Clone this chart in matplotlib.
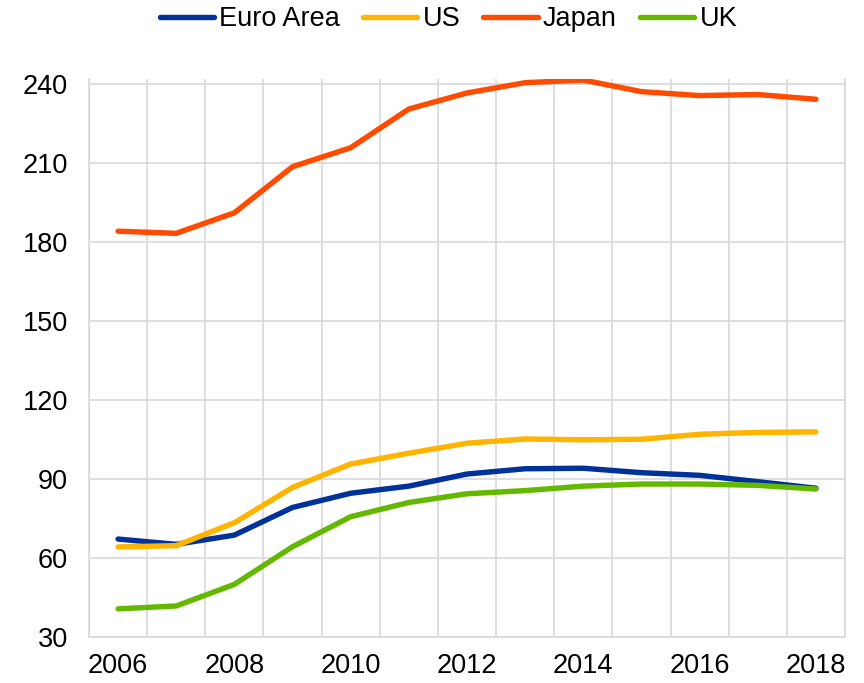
import matplotlib
matplotlib.use("Agg")
import matplotlib.pyplot as plt
import numpy as np

plt.rcParams['font.family'] = ['Liberation Sans', 'DejaVu Sans']

years = list(range(2006, 2019))
tick_labels = [str(y) if y % 2 == 0 else "" for y in years]
euro_area = [67.3, 65.3, 68.8, 79.3, 84.7, 87.4, 92.0, 94.0, 94.2, 92.5, 91.5, 89.1, 86.6]
us = [64.3, 64.8, 73.5, 86.9, 95.8, 99.9, 103.7, 105.3, 105.0, 105.2, 107.1, 107.8, 108.0]
japan = [184.2, 183.4, 191.2, 208.7, 215.9, 230.6, 236.7, 240.6, 241.6, 237.2, 235.7, 236.1, 234.3]
uk = [40.8, 41.9, 50.1, 64.4, 75.8, 81.2, 84.5, 85.7, 87.4, 88.2, 88.2, 87.7, 86.3]

series = [("Euro Area", euro_area, "#003299"),
          ("US", us, "#FFB400"),
          ("Japan", japan, "#FF4B00"),
          ("UK", uk, "#65B800")]

fig = plt.figure(figsize=(8.64, 6.83), dpi=100)
ax = fig.add_axes([89/864, 1-637.3/683, (845-89)/864, (637.3-79)/683])

x = np.arange(len(years))
for name, vals, col in series:
    ax.plot(x, vals, color=col, lw=3.9, label=name, solid_capstyle='round', solid_joinstyle='round')

grid_col = "#d9d9d9"
ax.set_xlim(-0.5, len(years) - 0.5)
ax.set_ylim(30, 242)
ax.set_yticks(np.arange(30, 241, 30))
ax.set_xticks(x)
ax.set_xticklabels(tick_labels)
ax.set_xticks(np.arange(-0.5, len(years), 1), minor=True)
ax.grid(True, axis='y', which='major', color=grid_col, lw=1.2)
ax.grid(True, axis='x', which='minor', color=grid_col, lw=1.2)
ax.set_axisbelow(True)
ax.tick_params(axis='both', which='both', length=0, labelsize=19.5)
ax.tick_params(axis='x', pad=11)
ax.tick_params(axis='y', pad=15)
for s in ['left', 'right', 'bottom']:
    ax.spines[s].set_color(grid_col)
    ax.spines[s].set_linewidth(1.2)
ax.spines['top'].set_visible(False)

fig.legend(loc='center', bbox_to_anchor=(0.519, 1 - 19/683), ncol=4, frameon=False,
           fontsize=19.5, handlelength=2.0, handletextpad=0.2, columnspacing=0.85,
           borderaxespad=0, borderpad=0)

fig.savefig("out.png", dpi=100)
